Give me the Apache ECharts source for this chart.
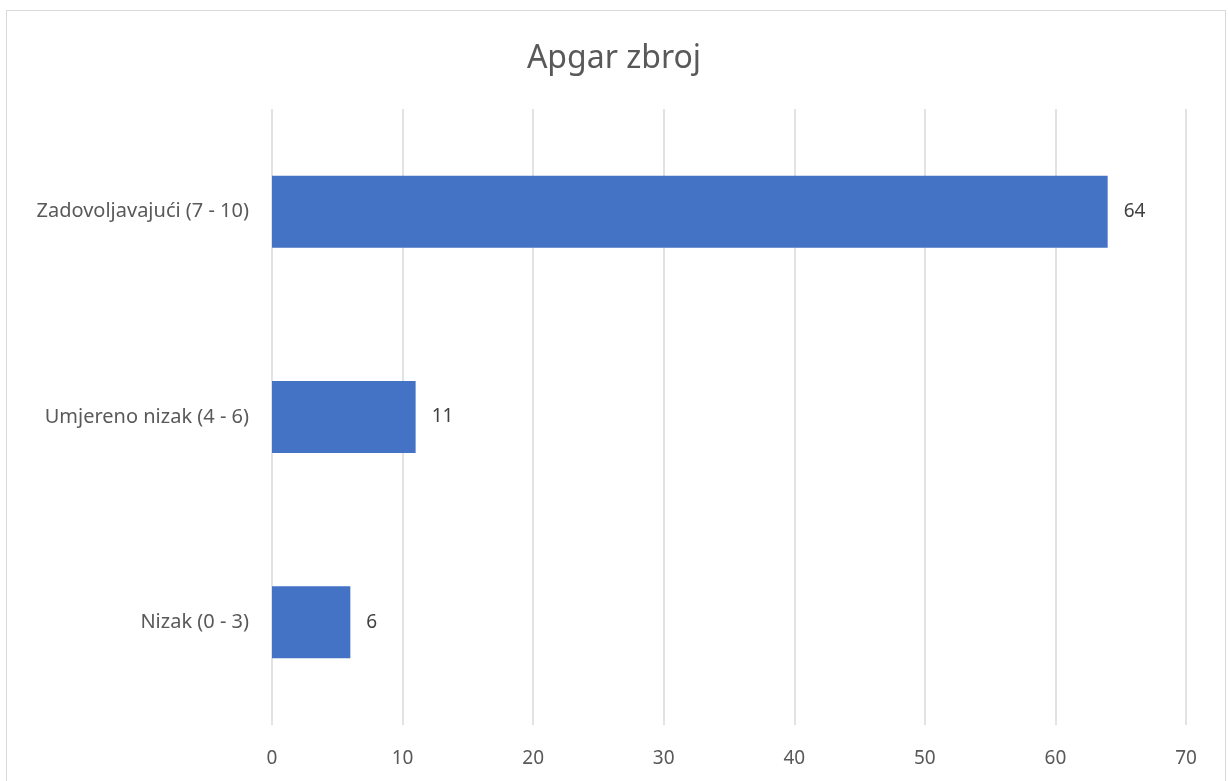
<!DOCTYPE html>
<html lang="hr">
<head>
    <meta charset="UTF-8">
    <title>Apgar zbroj</title>
    <script src="https://cdn.jsdelivr.net/npm/echarts@6/dist/echarts.min.js"></script>
    <style>
        body { margin: 0; background: #fff; }
        #frame { position: absolute; left: 6px; top: 10px; width: 1220px; height: 780px; border: 1px solid #d9d9d9; box-sizing: border-box; }
        #main { position: absolute; left: 0; top: 0; width: 1228px; height: 781px; }
    </style>
</head>
<body>
    <div id="frame"></div>
    <div id="main"></div>
    <script>
        var categories = ['Nizak (0 - 3)', 'Umjereno nizak (4 - 6)', 'Zadovoljavajući (7 - 10)'];
        var values = [6, 11, 64];
        var xTicks = { min: 0, max: 70, interval: 10 };

        var myChart = echarts.init(document.getElementById('main'));
        var font = 'Noto Sans';
        var option = {
            backgroundColor: 'transparent',
            title: {
                text: 'Apgar zbroj',
                left: 'center',
                top: 38,
                textStyle: { color: '#595959', fontSize: 32, fontWeight: 'normal', fontFamily: font }
            },
            grid: { left: 272, right: 42, top: 109, bottom: 56 },
            xAxis: {
                type: 'value',
                min: xTicks.min,
                max: xTicks.max,
                interval: xTicks.interval,
                axisLine: { show: false },
                axisTick: { show: false },
                axisLabel: { color: '#595959', fontSize: 19, fontFamily: font, margin: 24 },
                splitLine: { show: true, lineStyle: { color: '#d9d9d9', width: 1.5 } }
            },
            yAxis: {
                type: 'category',
                data: categories,
                axisLine: { show: false },
                axisTick: { show: false },
                axisLabel: { color: '#595959', fontSize: 20, fontFamily: font, margin: 23 }
            },
            series: [{
                type: 'bar',
                data: values,
                barWidth: 72,
                itemStyle: { color: '#4472c4' },
                label: {
                    show: true,
                    position: 'right',
                    distance: 16,
                    color: '#404040',
                    fontSize: 19,
                    fontFamily: font
                }
            }]
        };
        myChart.setOption(option);
    </script>
</body>
</html>
